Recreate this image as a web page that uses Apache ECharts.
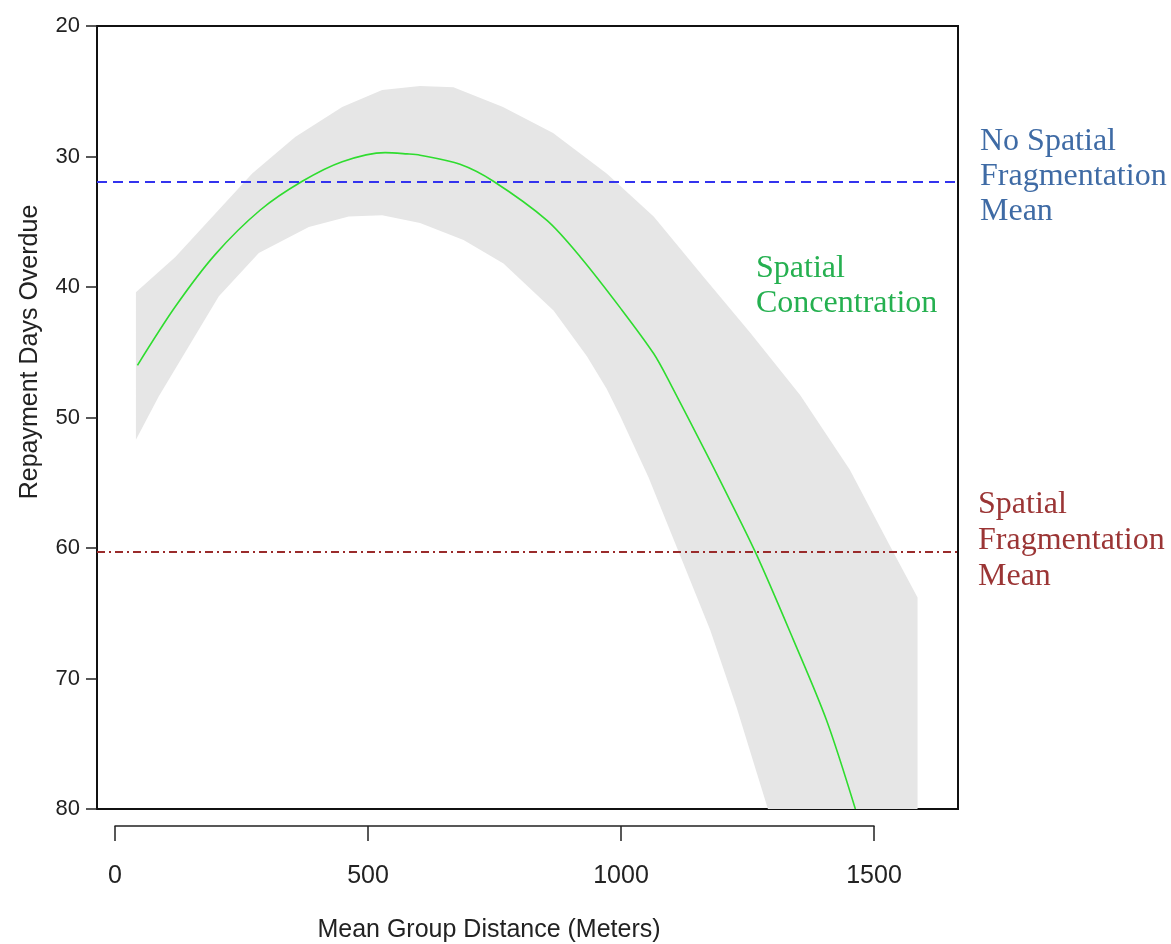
<!DOCTYPE html>
<html>
<head>
<meta charset="utf-8">
<script src="https://cdn.jsdelivr.net/npm/echarts@6/dist/echarts.min.js"></script>
<style>
  html, body { margin: 0; padding: 0; background: #ffffff; }
  #chart { width: 1171px; height: 944px; }
</style>
</head>
<body>
<div id="chart"></div>
<script>
// Fitted repayment delay (days overdue) against mean group distance (meters)
const fitDistance = [43, 118, 197, 286, 369, 448, 533, 576, 602, 681, 747, 853, 919, 998, 1064, 1097, 1169, 1195, 1265, 1340, 1406, 1463];
const fitDays     = [46.0, 41.5, 37.5, 34.1, 31.9, 30.4, 29.7, 29.8, 29.9, 30.6, 31.9, 34.9, 37.7, 41.6, 45.1, 47.4, 52.8, 54.8, 60.3, 67.0, 73.2, 80.0];

// Confidence band: upper edge (fewer days) and lower edge (more days)
const bandUpperDistance = [40, 118, 270, 355, 448, 527, 602, 668, 766, 865, 971, 1064, 1162, 1255, 1354, 1452, 1531, 1586];
const bandUpperDays     = [40.4, 37.7, 31.3, 28.5, 26.2, 24.9, 24.6, 24.7, 26.2, 28.2, 31.3, 34.6, 39.2, 43.5, 48.3, 54.0, 59.8, 63.8];
const bandLowerDistance = [40, 85, 204, 283, 382, 461, 527, 602, 688, 767, 866, 932, 971, 998, 1054, 1123, 1176, 1228, 1290, 1586];
const bandLowerDays     = [51.7, 48.4, 40.7, 37.4, 35.4, 34.6, 34.5, 35.1, 36.4, 38.2, 41.8, 45.3, 47.8, 49.9, 54.6, 61.2, 66.3, 72.2, 80.0, 80.0];

// Reference means
const noFragmentationMean = 31.9;
const fragmentationMean = 60.3;

// Axis ranges and ticks
const daysMin = 20, daysMax = 80, daysStep = 10;
const distanceMin = -37, distanceMax = 1666;
const distanceTickMin = 0, distanceTickMax = 1500, distanceTickStep = 500;

const sans = "'Liberation Sans', Arial, Helvetica, sans-serif";
const serif = "'Liberation Serif', 'Times New Roman', Times, serif";

const fitLine = fitDistance.map((d, i) => [d, fitDays[i]]);
const upperEdge = bandUpperDistance.map((d, i) => [d, bandUpperDays[i]]);
const lowerEdge = bandLowerDistance.map((d, i) => [d, bandLowerDays[i]]);

const chart = echarts.init(document.getElementById('chart'), null, { renderer: 'canvas' });

chart.setOption({
  animation: false,
  backgroundColor: '#ffffff',
  grid: [
    { left: 97, top: 26, right: 213, bottom: 135, show: true, borderColor: '#111111', borderWidth: 2, backgroundColor: 'transparent' },
    { left: 115, width: 759, top: 825, height: 1, show: false }
  ],
  xAxis: [
    { type: 'value', gridIndex: 0, min: distanceMin, max: distanceMax, show: false, axisLine: { onZero: false } },
    {
      type: 'value', gridIndex: 1, min: distanceTickMin, max: distanceTickMax, interval: distanceTickStep,
      position: 'bottom',
      axisLine: { show: true, onZero: false, lineStyle: { color: '#222222', width: 1.5 } },
      axisTick: { show: true, inside: false, length: 15, lineStyle: { color: '#222222', width: 1.5 } },
      axisLabel: { show: true, margin: 38, color: '#222222', fontSize: 25, fontFamily: sans, formatter: v => String(v) },
      splitLine: { show: false }
    }
  ],
  yAxis: [
    {
      type: 'value', gridIndex: 0, min: daysMin, max: daysMax, interval: daysStep, inverse: true,
      position: 'left',
      axisLine: { show: false, onZero: false },
      axisTick: { show: true, inside: false, length: 11, lineStyle: { color: '#222222', width: 1.5 } },
      axisLabel: { show: true, margin: 17, color: '#222222', fontSize: 22, fontFamily: sans },
      splitLine: { show: false }
    },
    { type: 'value', gridIndex: 1, show: false, min: 0, max: 1 }
  ],
  series: [
    {
      // shaded confidence band
      type: 'custom',
      xAxisIndex: 0, yAxisIndex: 0,
      silent: true,
      z: 1,
      data: [[fitDistance[0], fitDays[0]]],
      renderItem: function (params, api) {
        const pts = upperEdge.map(p => api.coord(p))
          .concat(lowerEdge.slice().reverse().map(p => api.coord(p)));
        return {
          type: 'polygon',
          shape: { points: pts },
          style: { fill: '#e6e6e6', stroke: null }
        };
      }
    },
    {
      type: 'line',
      name: 'Spatial Concentration',
      xAxisIndex: 0, yAxisIndex: 0,
      data: fitLine,
      showSymbol: false,
      symbol: 'none',
      smooth: 0.3,
      z: 3,
      lineStyle: { color: '#2fdc2f', width: 1.6 },
      markLine: {
        silent: true,
        symbol: 'none',
        label: { show: false },
        data: [
          { yAxis: noFragmentationMean, lineStyle: { color: '#3333ee', width: 2, type: [10, 6] } },
          { yAxis: fragmentationMean, lineStyle: { color: '#9a2b2b', width: 2, type: [8, 4, 2, 4] } }
        ]
      }
    }
  ],
  graphic: [
    {
      type: 'text', x: 30, y: 352, rotation: Math.PI / 2,
      style: { text: 'Repayment Days Overdue', fill: '#222222', font: '25px ' + sans, align: 'center', verticalAlign: 'middle' }
    },
    {
      type: 'text', x: 489, y: 930,
      style: { text: 'Mean Group Distance (Meters)', fill: '#222222', font: '25px ' + sans, align: 'center', verticalAlign: 'middle' }
    },
    {
      type: 'text', x: 980, y: 177,
      style: { text: 'No Spatial\nFragmentation\nMean', fill: '#3f6ba5', font: '32px ' + serif, lineHeight: 35, align: 'left', verticalAlign: 'middle' }
    },
    {
      type: 'text', x: 978, y: 541,
      style: { text: 'Spatial\nFragmentation\nMean', fill: '#9b3535', font: '32px ' + serif, lineHeight: 36, align: 'left', verticalAlign: 'middle' }
    },
    {
      type: 'text', x: 756, y: 286,
      style: { text: 'Spatial\nConcentration', fill: '#25b050', font: '32px ' + serif, lineHeight: 35, align: 'left', verticalAlign: 'middle' }
    }
  ]
});
</script>
</body>
</html>
